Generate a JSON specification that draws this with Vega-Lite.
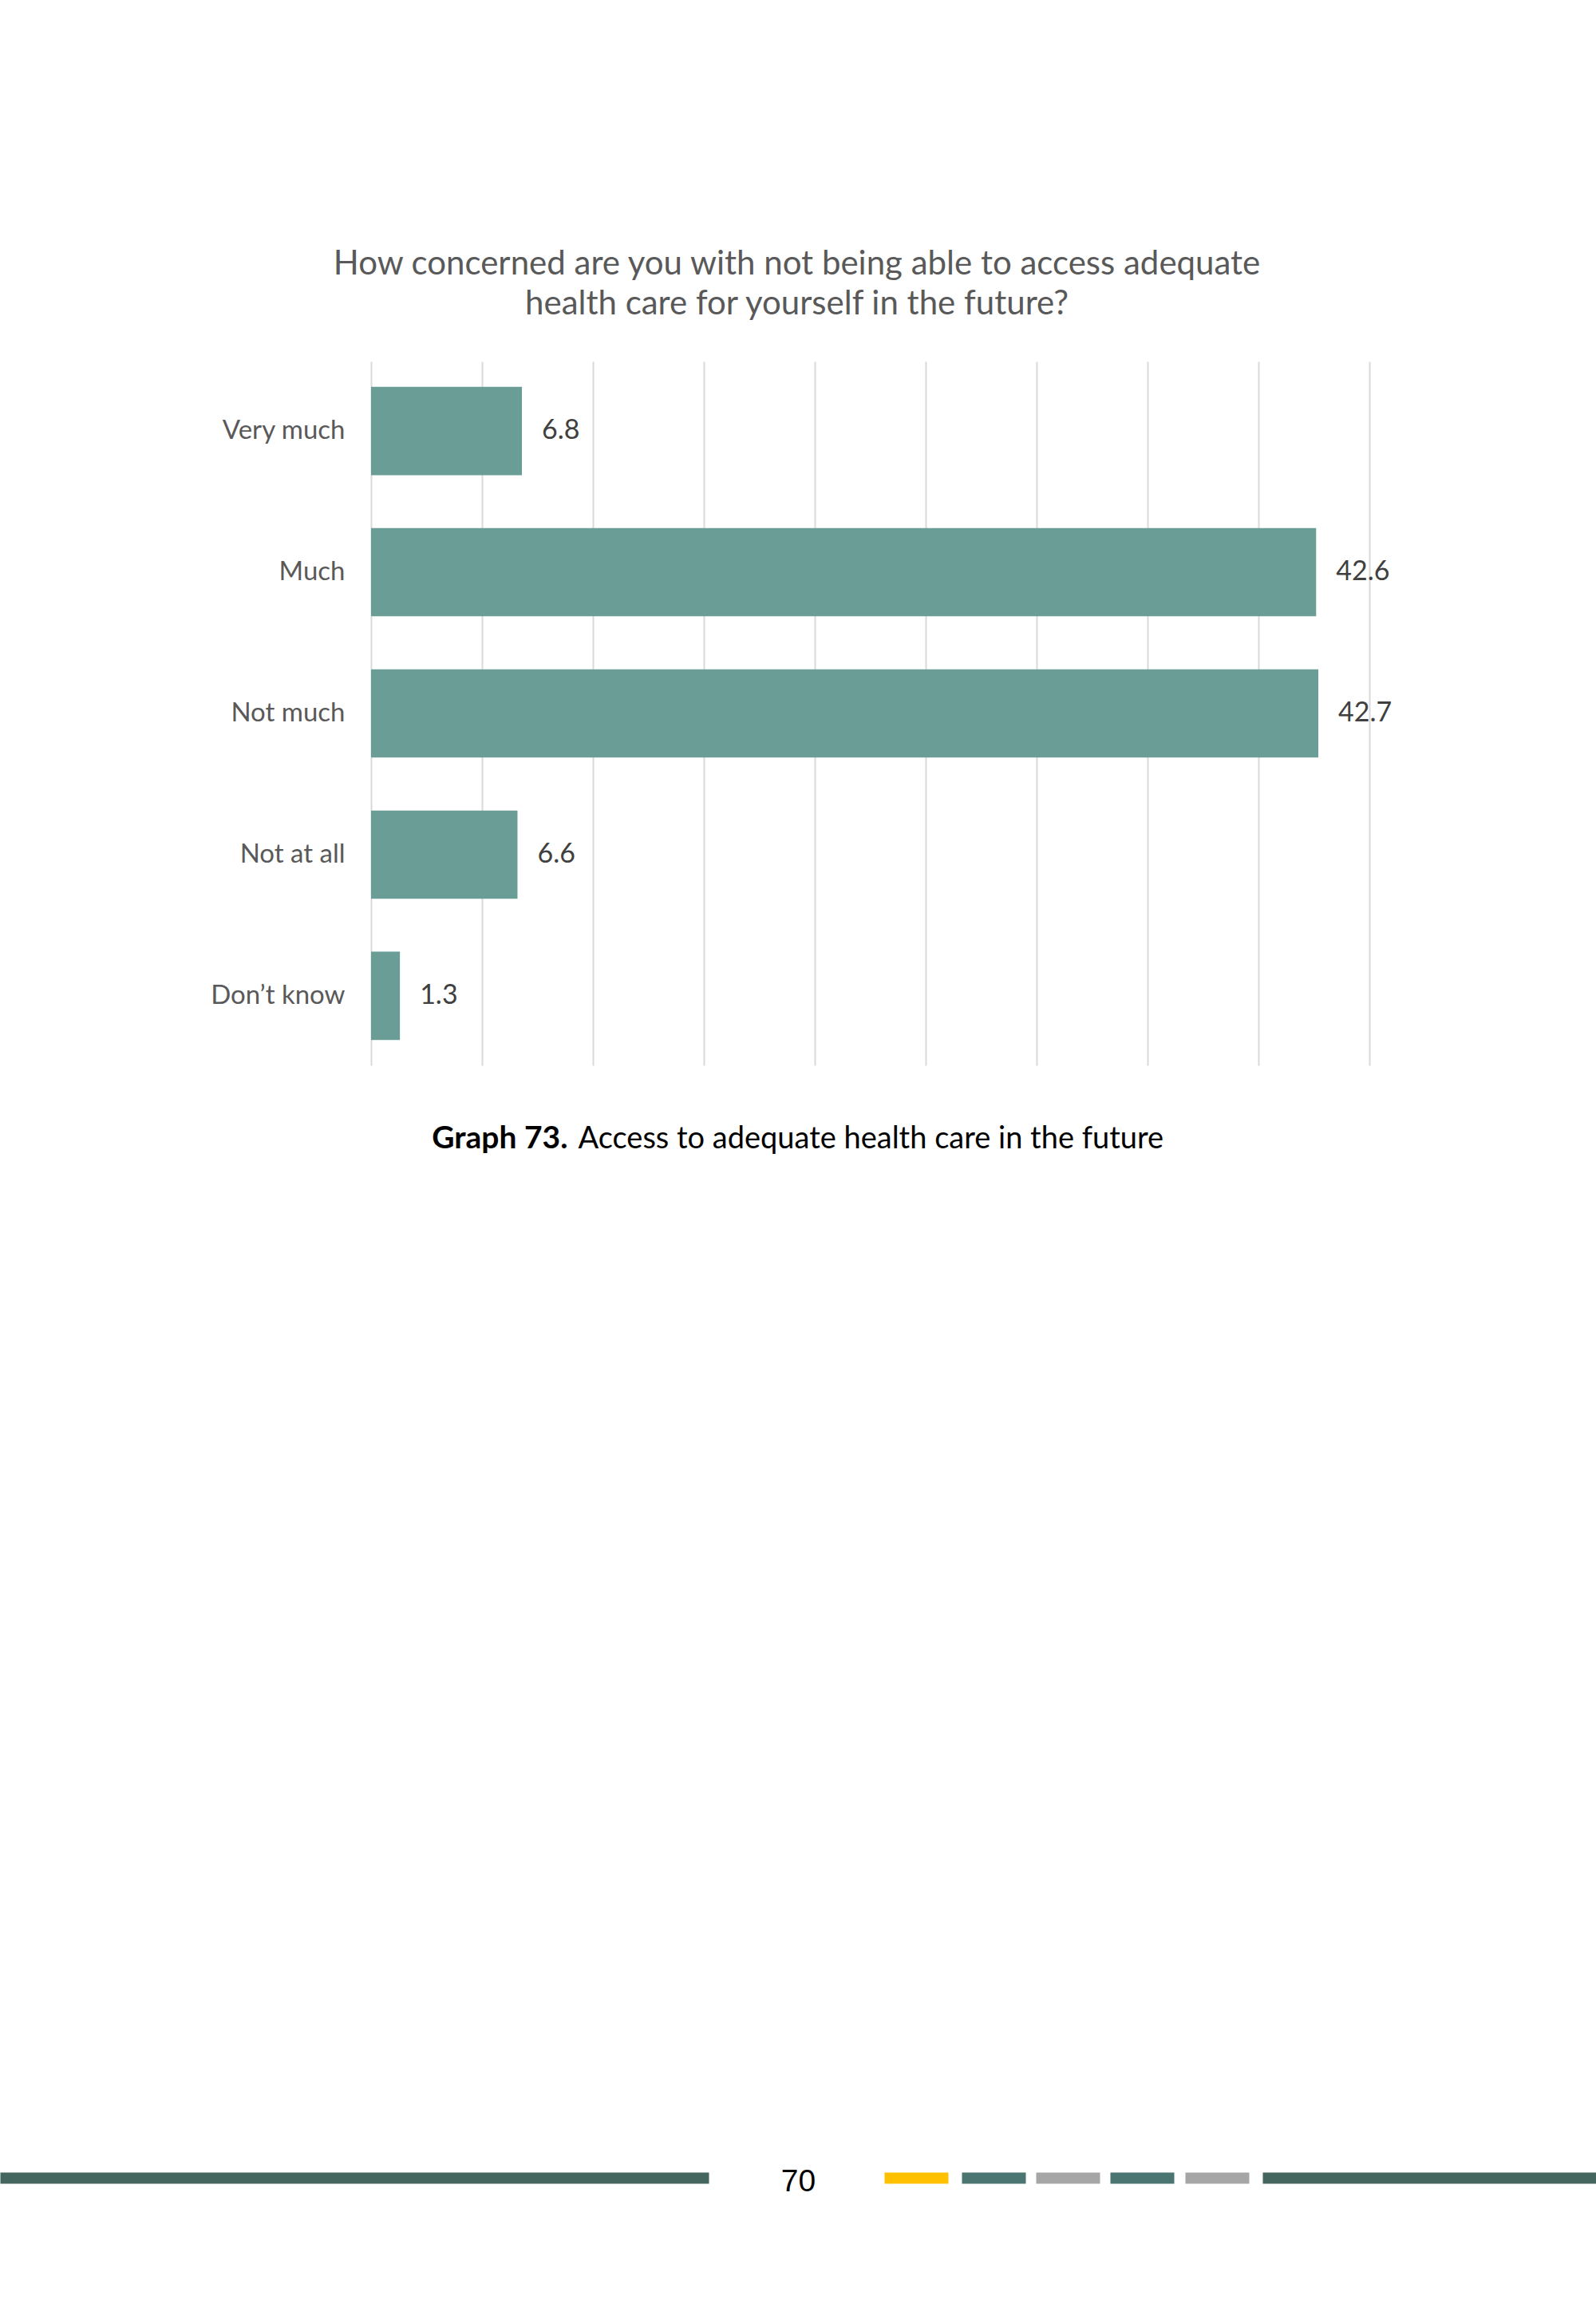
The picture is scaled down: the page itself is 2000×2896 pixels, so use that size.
{
  "$schema": "https://vega.github.io/schema/vega-lite/v6.json",
  "autosize": {"type": "none"},
  "width": 1251,
  "height": 882,
  "padding": {"left": 465, "top": 453, "right": 284, "bottom": 1561},
  "background": "white",
  "title": {
    "text": ["How concerned are you with not being able to access adequate", "health care for yourself in the future?"],
    "anchor": "middle",
    "frame": "group",
    "dx": -92,
    "offset": 8,
    "baseline": "bottom",
    "font": "Lato",
    "fontSize": 42,
    "fontWeight": "normal",
    "lineHeight": 50,
    "color": "#595959"
  },
  "data": {
    "values": [
      {"answer": "Very much", "share": 6.8},
      {"answer": "Much", "share": 42.6},
      {"answer": "Not much", "share": 42.7},
      {"answer": "Not at all", "share": 6.6},
      {"answer": "Don’t know", "share": 1.3}
    ]
  },
  "layer": [
    {
      "mark": {"type": "bar", "color": "#699D95"},
      "encoding": {
        "y": {
          "field": "answer",
          "type": "nominal",
          "sort": null,
          "scale": {"paddingInner": 0.375, "paddingOuter": 0.18},
          "axis": {
            "title": null,
            "ticks": false,
            "domain": false,
            "labelPadding": 33,
            "labelFont": "Lato",
            "labelFontSize": 33,
            "labelColor": "#595959"
          }
        },
        "x": {
          "field": "share",
          "type": "quantitative",
          "scale": {"domain": [0, 45]},
          "axis": {
            "orient": "bottom",
            "values": [0, 5, 10, 15, 20, 25, 30, 35, 40, 45],
            "grid": true,
            "gridColor": "#D9D9D9",
            "gridWidth": 2,
            "labels": false,
            "ticks": false,
            "domain": false,
            "title": "Graph 73.",
            "titleFont": "Lato",
            "titleFontSize": 39,
            "titleFontWeight": "bold",
            "titleColor": "#000000",
            "titleAlign": "right",
            "titleBaseline": "alphabetic",
            "titleX": 246,
            "titleY": 103
          }
        }
      }
    },
    {
      "mark": {"type": "text", "align": "left", "baseline": "middle", "dx": 25, "font": "Lato", "fontSize": 34, "color": "#404040"},
      "encoding": {
        "y": {"field": "answer", "type": "nominal", "sort": null},
        "x": {
          "field": "share",
          "type": "quantitative",
          "scale": {"domain": [0, 45]},
          "axis": {
            "orient": "bottom",
            "grid": false,
            "labels": false,
            "ticks": false,
            "domain": false,
            "title": "Access to adequate health care in the future",
            "titleFont": "Lato",
            "titleFontSize": 38,
            "titleFontWeight": "normal",
            "titleColor": "#000000",
            "titleAlign": "left",
            "titleBaseline": "alphabetic",
            "titleX": 259,
            "titleY": 103
          }
        },
        "text": {"field": "share", "type": "quantitative", "format": ".1f"}
      }
    },
    {
      "data": {"values": []},
      "mark": "point",
      "encoding": {
        "x": {
          "field": "p",
          "type": "quantitative",
          "scale": {"domain": [0, 1], "range": [-465, 1535]},
          "axis": {
            "orient": "bottom",
            "offset": 1394,
            "grid": false,
            "labels": false,
            "ticks": false,
            "domain": true,
            "domainColor": "#44665F",
            "domainWidth": 14,
            "domainDash": [888, 694],
            "title": "70",
            "titleFont": "Liberation Sans",
            "titleFontSize": 39,
            "titleFontWeight": "normal",
            "titleColor": "#000000",
            "titleAlign": "center",
            "titleBaseline": "alphabetic",
            "titleX": 535,
            "titleY": 16
          }
        }
      }
    },
    {
      "data": {"values": []},
      "mark": "point",
      "encoding": {
        "x": {
          "field": "p",
          "type": "quantitative",
          "scale": {"domain": [0, 1], "range": [643, 723]},
          "axis": {
            "orient": "bottom",
            "offset": 1394,
            "grid": false,
            "labels": false,
            "ticks": false,
            "domainColor": "#FFC000",
            "domainWidth": 14,
            "title": null
          }
        }
      }
    },
    {
      "data": {"values": []},
      "mark": "point",
      "encoding": {
        "x": {
          "field": "p",
          "type": "quantitative",
          "scale": {"domain": [0, 1], "range": [740, 1006]},
          "axis": {
            "orient": "bottom",
            "offset": 1394,
            "grid": false,
            "labels": false,
            "ticks": false,
            "domainColor": "#4A7570",
            "domainWidth": 14,
            "domainDash": [80, 106],
            "title": null
          }
        }
      }
    },
    {
      "data": {"values": []},
      "mark": "point",
      "encoding": {
        "x": {
          "field": "p",
          "type": "quantitative",
          "scale": {"domain": [0, 1], "range": [833, 1100]},
          "axis": {
            "orient": "bottom",
            "offset": 1394,
            "grid": false,
            "labels": false,
            "ticks": false,
            "domainColor": "#A6A6A6",
            "domainWidth": 14,
            "domainDash": [80, 107],
            "title": null
          }
        }
      }
    }
  ],
  "resolve": {"scale": {"x": "independent"}},
  "config": {
    "view": {"stroke": null}
  }
}
